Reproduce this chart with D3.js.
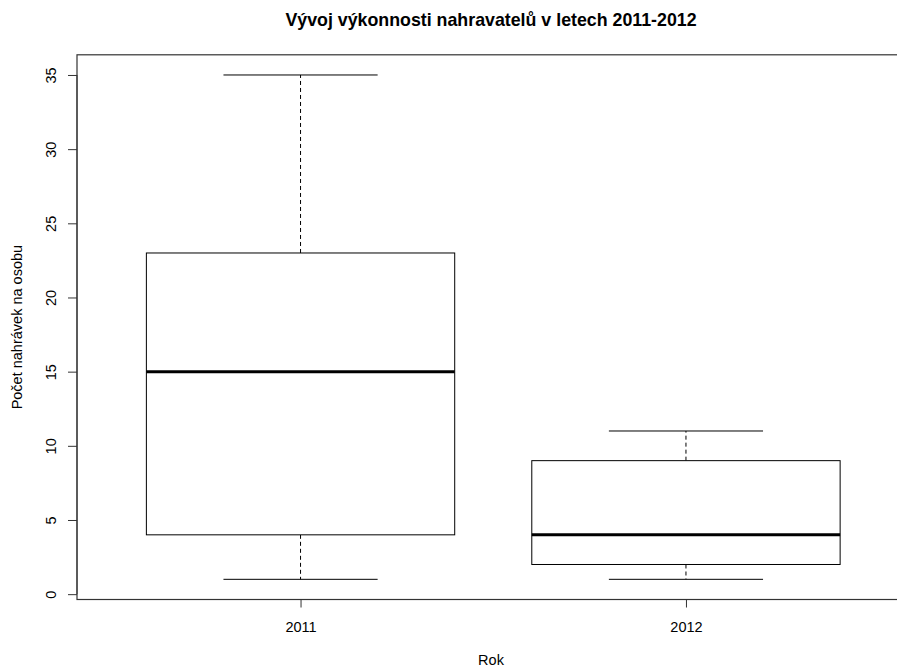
<!DOCTYPE html>
<meta charset="utf-8">
<script src="https://d3js.org/d3.v7.min.js"></script>
<style>
  body { margin: 0; background: #fff; }
  text { font-family: "Liberation Sans", Arial, sans-serif; fill: #000; }
</style>
<div id="my_dataviz"></div>
<script>
  // five number summaries
  var years = ["2011", "2012"];
  var mins = [1, 1];
  var q1s = [4, 2];
  var medians = [15, 4];
  var q3s = [23, 9];
  var maxs = [35, 11];
  var yTicks = [0, 5, 10, 15, 20, 25, 30, 35];

  var W = 897, H = 668;
  var svg = d3.select("#my_dataviz").append("svg")
    .attr("width", W).attr("height", H);

  // R style: 4% extension of the ranges
  var x = d3.scaleLinear().domain([0.42, 2.58]).range([77, 909.5]);
  var y = d3.scaleLinear().domain([-0.36, 36.36]).range([599.5, 54.8]);

  // frame
  svg.append("rect")
    .attr("x", x(0.42)).attr("y", y(36.36))
    .attr("width", x(2.58) - x(0.42)).attr("height", y(-0.36) - y(36.36))
    .attr("fill", "none").attr("stroke", "#333").attr("stroke-width", 1.2);

  // y axis
  var yAxis = svg.append("g").attr("transform", "translate(" + x(0.42) + ",0)")
    .call(d3.axisLeft(y).tickValues(yTicks).tickSize(9).tickPadding(0));
  yAxis.select(".domain").attr("stroke", "#333").attr("d", "M0," + y(0) + "V" + y(35));
  yAxis.selectAll(".tick line").attr("stroke", "#333");
  yAxis.selectAll(".tick text")
    .attr("font-size", 14.5).attr("font-family", "Liberation Sans, Arial, sans-serif")
    .attr("fill", "#222")
    .attr("transform", "rotate(-90)")
    .attr("x", 0).attr("y", -21).attr("dy", 0)
    .attr("text-anchor", "middle");

  // x axis
  var xAxis = svg.append("g").attr("transform", "translate(0," + y(-0.36) + ")")
    .call(d3.axisBottom(x).tickValues([1, 2]).tickSize(8).tickPadding(0)
      .tickFormat(function(d) { return years[d - 1]; }));
  xAxis.select(".domain").remove();
  xAxis.selectAll(".tick line").attr("stroke", "#333");
  xAxis.selectAll(".tick text")
    .attr("font-size", 14.5).attr("font-family", "Liberation Sans, Arial, sans-serif")
    .attr("fill", "#222").attr("y", 32).attr("dy", 0);

  // boxes
  var g = svg.append("g");
  years.forEach(function(yr, i) {
    var cx = x(i + 1);
    var bw = x(1.4) - x(1);   // half box width
    var cw = x(1.2) - x(1);   // half cap width
    // whiskers
    g.append("line").attr("x1", cx).attr("x2", cx)
      .attr("y1", y(q3s[i])).attr("y2", y(maxs[i]))
      .attr("stroke", "#000").attr("stroke-dasharray", "4,3");
    g.append("line").attr("x1", cx).attr("x2", cx)
      .attr("y1", y(q1s[i])).attr("y2", y(mins[i]))
      .attr("stroke", "#000").attr("stroke-dasharray", "4,3");
    // caps
    [mins[i], maxs[i]].forEach(function(v) {
      g.append("line").attr("x1", cx - cw).attr("x2", cx + cw)
        .attr("y1", y(v)).attr("y2", y(v)).attr("stroke", "#000");
    });
    // box
    g.append("rect")
      .attr("x", cx - bw).attr("y", y(q3s[i]))
      .attr("width", 2 * bw).attr("height", y(q1s[i]) - y(q3s[i]))
      .attr("fill", "#fff").attr("stroke", "#000");
    // median
    g.append("line").attr("x1", cx - bw).attr("x2", cx + bw)
      .attr("y1", y(medians[i])).attr("y2", y(medians[i]))
      .attr("stroke", "#000").attr("stroke-width", 3);
  });

  // title and axis labels
  svg.append("text").attr("x", 491).attr("y", 26)
    .attr("text-anchor", "middle").attr("font-weight", "bold").attr("font-size", 17.8)
    .text("Vývoj výkonnosti nahravatelů v letech 2011-2012");
  svg.append("text").attr("x", 491).attr("y", 665)
    .attr("text-anchor", "middle").attr("font-size", 14.5)
    .text("Rok");
  svg.append("text")
    .attr("transform", "translate(22," + ((y(-0.36) + y(36.36)) / 2) + ") rotate(-90)")
    .attr("text-anchor", "middle").attr("font-size", 14.5)
    .text("Počet nahrávek na osobu");
</script>
